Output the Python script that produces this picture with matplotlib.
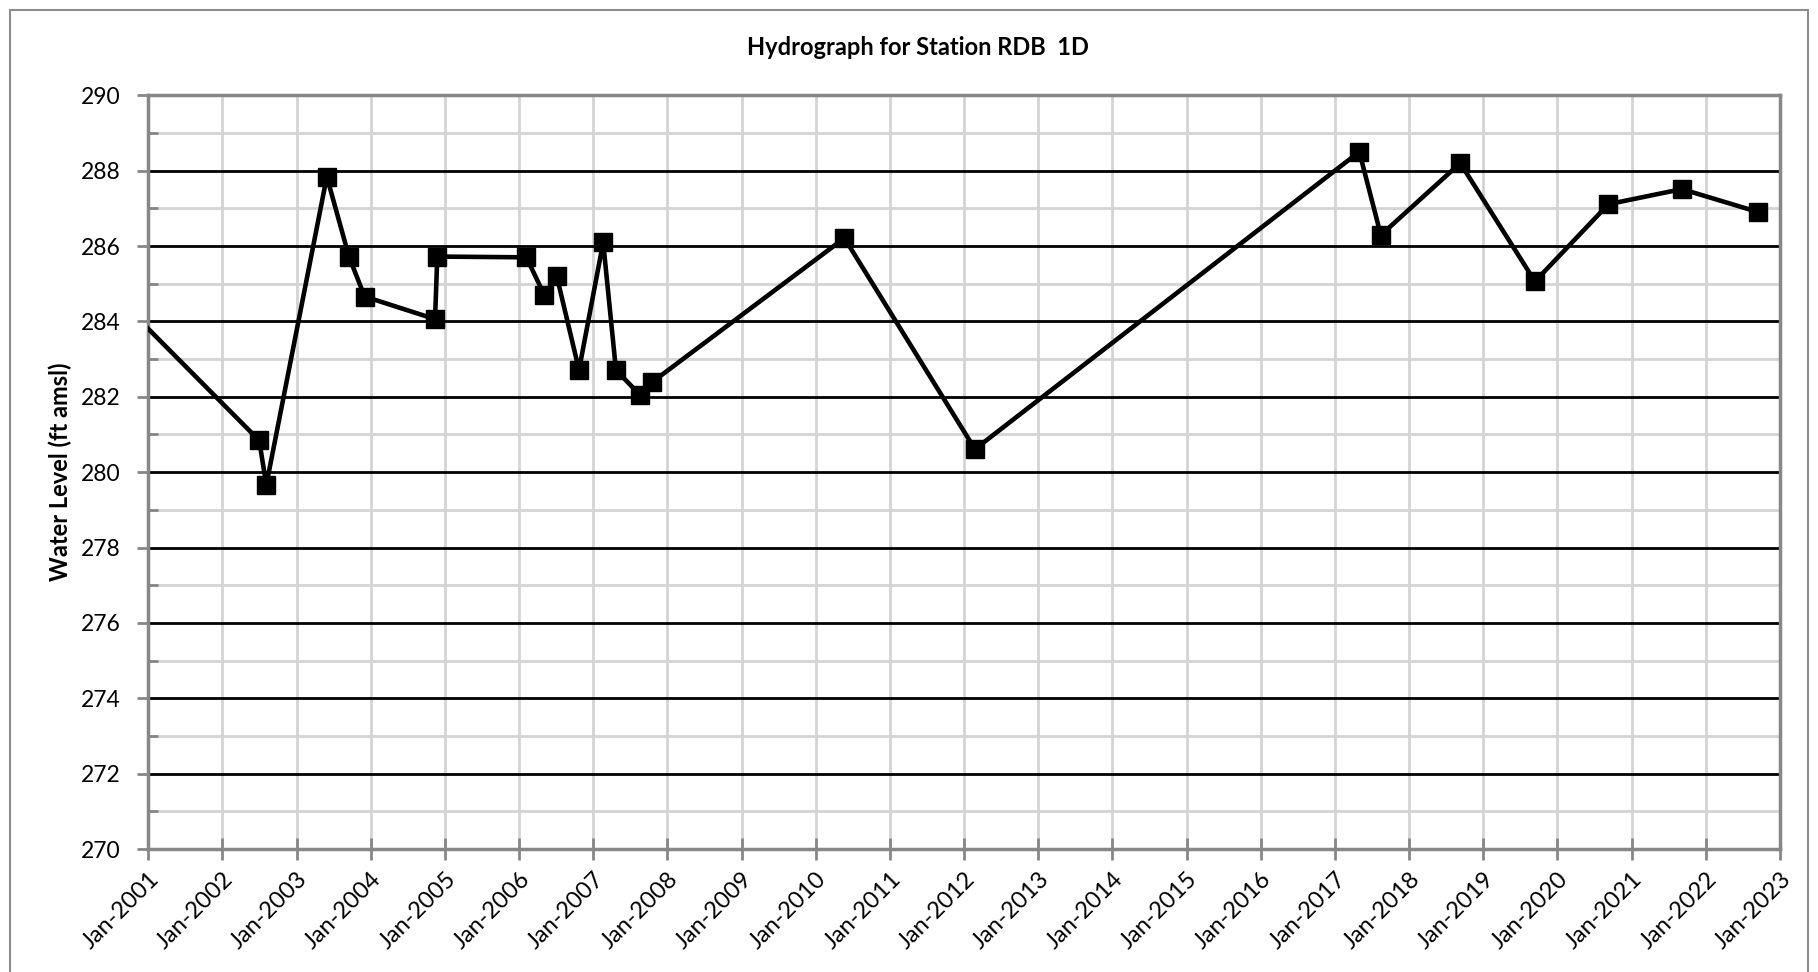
import matplotlib
matplotlib.use("Agg")
import matplotlib.pyplot as plt
from matplotlib.ticker import MultipleLocator
from matplotlib.patches import Rectangle
import pandas as pd

# ---- data ----
dates = ["2000-10-01", "2002-07-01", "2002-08-05", "2003-05-30", "2003-09-16",
         "2003-12-02", "2004-11-13", "2004-11-24", "2006-02-06", "2006-05-05",
         "2006-07-05", "2006-10-23", "2007-02-19", "2007-04-23", "2007-08-19",
         "2007-10-16", "2010-05-22", "2012-02-24", "2017-05-01", "2017-08-15",
         "2018-09-10", "2019-09-13", "2020-09-09", "2021-09-06", "2022-09-17"]
levels = [284.3, 280.84, 279.66, 287.84, 285.72,
          284.66, 284.06, 285.72, 285.70, 284.70,
          285.21, 282.71, 286.10, 282.71, 282.05,
          282.38, 286.21, 280.61, 288.50, 286.29,
          288.20, 285.06, 287.11, 287.51, 286.90]
tick_years = list(range(2001, 2024))
title = "Hydrograph for Station RDB  1D"
ylabel = "Water Level (ft amsl)"

plt.rcParams['font.family'] = ['Lato', 'DejaVu Sans']

x = pd.to_datetime(dates)
fig = plt.figure(figsize=(18.18, 9.72), dpi=100)
ax = fig.add_axes([0.0816, 0.1265, 0.979 - 0.0816, 0.902 - 0.1265])

# outer chart border
fig.patches.append(Rectangle((10 / 1818, -0.01), 1798 / 1818, 1 - 10 / 972 + 0.01,
                             transform=fig.transFigure, fill=False,
                             edgecolor="#8c8c8c", linewidth=1.5))

ax.plot(x, levels, color="black", linewidth=3.3, marker="s", markersize=12.5,
        markerfacecolor="black", markeredgecolor="black", zorder=5)

ax.set_ylim(270, 290)
ax.set_xlim(pd.Timestamp("2001-01-01"), pd.Timestamp("2023-01-01"))

ax.yaxis.set_major_locator(MultipleLocator(2))
ax.yaxis.set_minor_locator(MultipleLocator(1))
xt = [pd.Timestamp(f"{y}-01-01") for y in tick_years]
ax.set_xticks(xt)
ax.set_xticklabels([f"Jan-{y}" for y in tick_years], rotation=45,
                   ha="right", va="top", rotation_mode="anchor")

ax.grid(which="minor", axis="y", color="#d4d4d4", linewidth=2, zorder=0)
ax.grid(which="major", axis="y", color="black", linewidth=2, zorder=1)
ax.grid(which="major", axis="x", color="#d4d4d4", linewidth=2, zorder=0)
ax.set_axisbelow(True)

for s in ax.spines.values():
    s.set_color("#878787")
    s.set_linewidth(2.5)

ax.tick_params(axis="y", which="major", direction="out", length=8, width=2,
               color="#878787", labelsize=16.5, pad=12)
ax.tick_params(axis="y", which="minor", direction="in", length=7, width=2,
               color="#878787")
ax.tick_params(axis="x", which="major", direction="inout", length=16, width=2,
               color="#878787", labelsize=17, pad=6)

ax.set_ylabel(ylabel, fontsize=17, fontweight="bold")
ax.yaxis.set_label_coords(-0.047, 0.5)
fig.text(0.505, 0.951, title, ha="center", va="center", fontsize=17,
         fontweight="bold")

fig.savefig("out.png", dpi=100)
